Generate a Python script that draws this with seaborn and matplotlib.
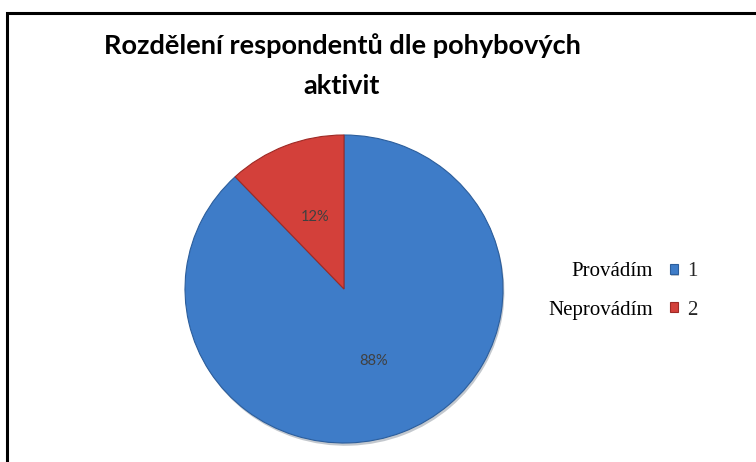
import matplotlib
matplotlib.use("Agg")
import matplotlib.pyplot as plt
import matplotlib.patheffects as pe
from matplotlib.patches import Rectangle
import seaborn as sns

# data
categories = ["Provádím", "Neprovádím"]
series_ids = ["1", "2"]
shares = [88, 12]
title = "Rozdělení respondentů dle pohybových\naktivit"

colors = ["#3E7CC8", "#D3403A"]
edges = ["#2C5E9C", "#9E2A25"]

sns.set_theme(style="white")
plt.rcParams['font.family'] = ['Lato', 'DejaVu Sans']

W, H = 756, 462
fig = plt.figure(figsize=(W / 100, H / 100), dpi=100)
fig.patch.set_facecolor("white")

# pie area (pixels from the reference)
ax = fig.add_axes([185 / W, (H - 443) / H, 318 / W, 308 / H])
wedges, texts, autotexts = ax.pie(
    shares, colors=colors, startangle=90, counterclock=False, radius=1,
    autopct='%1.0f%%', pctdistance=0.5,
    wedgeprops=dict(linewidth=0.8),
    textprops=dict(color='#404040', fontsize=10.5))
for w, ec in zip(wedges, edges):
    w.set_edgecolor(ec)
wedges[0].set_path_effects([pe.SimplePatchShadow(offset=(1, -2), alpha=0.25), pe.Normal()])
ax.set_aspect('auto')
ax.set_xlim(-1, 1)
ax.set_ylim(-1, 1)

fig.text(342 / W, 1 - 66 / H, title, ha='center', va='center', multialignment='center',
         fontsize=19.5, fontweight='bold', color='black', linespacing=1.8)

# legend: small squares with the series ids, category names to the left
leg_size = 15
leg = fig.legend(wedges, series_ids, loc='center left', bbox_to_anchor=(670 / W, 1 - 291 / H),
                 frameon=False, borderpad=0, borderaxespad=0,
                 handlelength=0.36, handleheight=0.36, handletextpad=0.45,
                 labelspacing=0.95, prop=dict(family='Liberation Serif', size=leg_size))
fig.canvas.draw()
renderer = fig.canvas.get_renderer()
inv = fig.transFigure.inverted()
for t, name in zip(leg.get_texts(), categories):
    bb = t.get_window_extent(renderer)
    y = inv.transform((0, (bb.y0 + bb.y1) / 2))[1]
    fig.text(653 / W, y, name, ha='right', va='center', family='Liberation Serif',
             fontsize=leg_size, color='black')

# frame around the chart, cut off at right and bottom
fig.add_artist(Rectangle((7 / W, -0.5), 2, (1 - 13 / H) + 0.5, transform=fig.transFigure,
                         fill=False, lw=2.2, ec='black', clip_on=False))

fig.savefig("out.png", dpi=100)
